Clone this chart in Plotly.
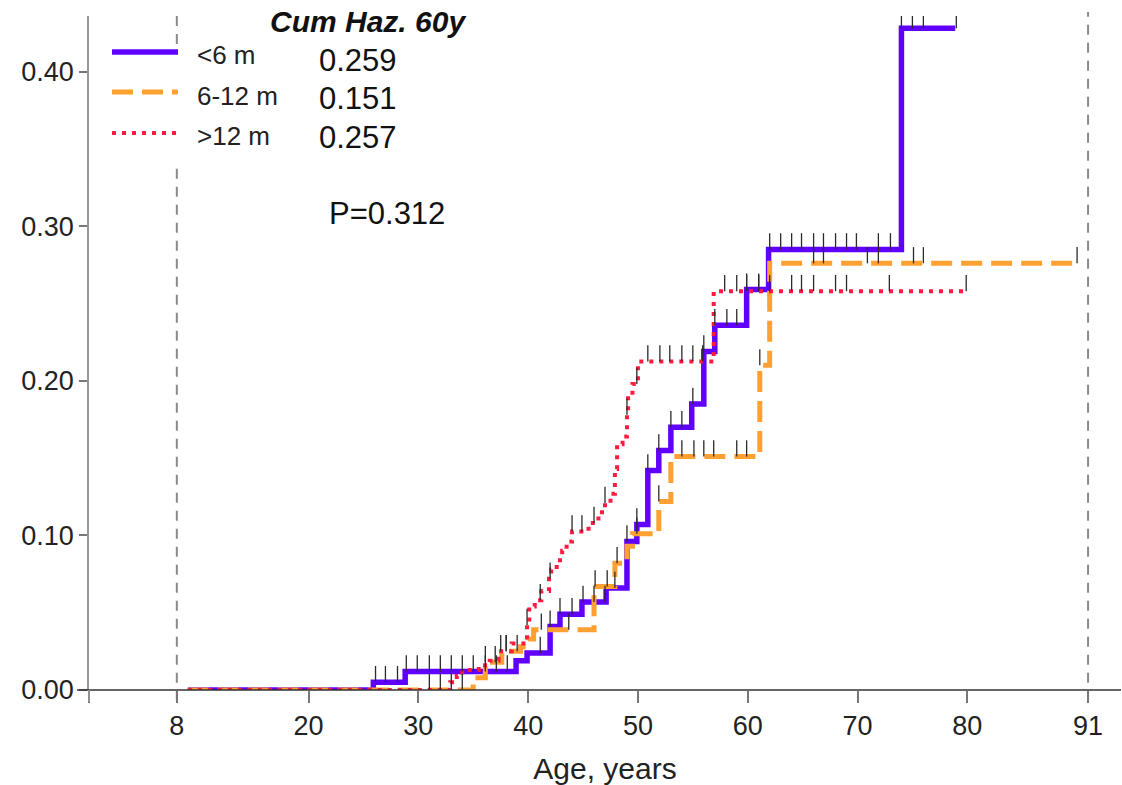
import plotly.graph_objects as go

# ---------------- data ----------------
series_names = ["<6 m", "6-12 m", ">12 m"]
cumhaz_60y = ["0.259", "0.151", "0.257"]
p_value_text = "P=0.312"

# step times (age, years) and cumulative hazard after each step
blue_times = [9.0, 25.9, 28.8, 38.9, 39.9, 42.0, 42.9, 44.9, 47.1, 49.0, 49.9, 50.9, 51.9, 53.0,
              54.9, 56.0, 57.0, 59.9, 61.9, 74.0]
blue_vals = [0.0, 0.005, 0.012, 0.019, 0.024, 0.041, 0.049, 0.057, 0.066, 0.096, 0.107, 0.142, 0.155,
             0.170, 0.185, 0.219, 0.236, 0.259, 0.285, 0.428]
blue_end = 78.9
blue_censor = [26.1, 27.0, 28.1, 28.9, 29.9, 31.0, 32.0, 33.0, 34.0, 35.0, 36.1, 37.1, 38.1, 41.1,
               42.0, 42.9, 44.0, 45.0, 46.0, 47.0, 47.9, 49.0, 49.9, 50.9, 51.9, 53.0, 54.0, 55.0,
               56.0, 57.0, 58.1, 59.0, 59.9, 61.0, 62.0, 63.0, 64.0, 64.9, 66.0, 66.9, 68.0, 69.0,
               69.9, 71.9, 73.0, 74.0, 75.0, 76.0, 79.0]

orange_times = [9.0, 35.0, 36.1, 37.6, 39.3, 40.0, 40.5, 46.0, 47.9, 49.0, 49.5, 51.9, 53.0, 61.1, 62.0]
orange_vals = [0.0, 0.008, 0.018, 0.025, 0.028, 0.033, 0.039, 0.067, 0.082, 0.093, 0.101, 0.122,
               0.151, 0.210, 0.276]
orange_end = 90.0
orange_censor = [33.0, 34.0, 36.1, 37.0, 38.0, 39.0, 41.2, 43.7, 46.1, 47.2, 48.1, 49.9, 51.9, 54.0,
                 55.1, 56.0, 56.9, 59.0, 59.9, 61.1, 66.0, 66.9, 70.9, 71.9, 75.1, 76.0, 90.0]

red_times = [9.0, 32.9, 33.5, 34.0, 35.5, 36.5, 37.3, 38.5, 39.9, 40.1, 40.6, 41.2, 41.9, 42.1, 42.6,
             43.1, 43.5, 44.0, 45.5, 46.4, 47.0, 47.5, 47.9, 48.1, 48.6, 49.0, 49.1, 49.5, 50.0, 56.9]
red_vals = [0.0, 0.005, 0.009, 0.013, 0.016, 0.019, 0.025, 0.030, 0.042, 0.054, 0.058, 0.064, 0.072,
            0.078, 0.084, 0.090, 0.096, 0.1025, 0.108, 0.115, 0.121, 0.127, 0.143, 0.159, 0.164,
            0.178, 0.191, 0.198, 0.2125, 0.258]
red_end = 79.9
red_censor = [31.0, 32.0, 37.5, 38.0, 39.9, 41.1, 42.0, 44.0, 44.9, 46.0, 47.0, 49.0, 49.9, 50.9,
              52.0, 52.9, 54.0, 55.0, 55.9, 57.9, 59.0, 59.9, 61.0, 62.0, 64.0, 64.9, 66.0, 68.0,
              69.0, 72.9, 79.9]

x_tick_vals = [0, 8, 20, 30, 40, 50, 60, 70, 80, 91]
x_tick_text = ["", "8", "20", "30", "40", "50", "60", "70", "80", "91"]
y_tick_vals = [0.0, 0.1, 0.2, 0.3, 0.4]
y_tick_text = ["0.00", "0.10", "0.20", "0.30", "0.40"]
ref_lines = [8, 91]

# ---------------- style ----------------
FONT = "Arial, Liberation Sans, Helvetica, sans-serif"
colors = ["#6000FF", "#FFA033", "#FF1A40"]
dashes = ["solid", "21px,9px", "4px,6px"]
widths = [5.5, 5, 4]

W, H = 1122, 785
ML, MR, MT, MB = 89, 1, 16, 95
PW, PH = W - ML - MR, H - MT - MB
X_MAX = 94.0
Y_MAX = 0.436


def px(x):
    return (x - ML) / PW


def py(y):
    return (H - MB - y) / PH


def value_at(times, vals, t):
    v = vals[0]
    for tt, vv in zip(times, vals):
        if tt <= t + 1e-9:
            v = vv
    return v


fig = go.Figure()

series = [
    (blue_times, blue_vals, blue_end, blue_censor),
    (orange_times, orange_vals, orange_end, orange_censor),
    (red_times, red_vals, red_end, red_censor),
]

for i, (ts, vs, end, cens) in enumerate(series):
    fig.add_trace(go.Scatter(
        x=ts + [end], y=vs + [vs[-1]], mode="lines", line_shape="hv",
        line=dict(color=colors[i], width=widths[i], dash=dashes[i]),
        name=series_names[i], showlegend=False, hoverinfo="skip"))

tick_h = 0.0105
for i, (ts, vs, end, cens) in enumerate(series):
    xs, ys = [], []
    for t in cens:
        v = value_at(ts, vs, t)
        xs += [t, t, None]
        ys += [v, v + tick_h, None]
    fig.add_trace(go.Scatter(x=xs, y=ys, mode="lines",
                             line=dict(color="#2a2a2a", width=1.3),
                             showlegend=False, hoverinfo="skip"))

shapes = []
# reference dashed vertical lines
legend_gap_top, legend_gap_bot = 44, 168
for xv in ref_lines:
    if xv == 8:
        shapes.append(dict(type="line", xref="x", yref="paper", x0=xv, x1=xv,
                           y0=-0.016, y1=py(legend_gap_bot),
                           line=dict(color="#8a8a8a", width=2, dash="10px,8px"), layer="below"))
        shapes.append(dict(type="line", xref="x", yref="paper", x0=xv, x1=xv,
                           y0=py(legend_gap_top), y1=1.006,
                           line=dict(color="#8a8a8a", width=2, dash="10px,8px"), layer="below"))
    else:
        shapes.append(dict(type="line", xref="x", yref="paper", x0=xv, x1=xv,
                           y0=-0.016, y1=1.006,
                           line=dict(color="#8a8a8a", width=2, dash="10px,8px"), layer="below"))

# axis overhangs
shapes.append(dict(type="line", xref="paper", yref="paper", x0=px(77), x1=px(1121), y0=0, y1=0,
                   line=dict(color="#333333", width=1.5)))
shapes.append(dict(type="line", xref="paper", yref="paper", x0=0, x1=0, y0=py(702), y1=0,
                   line=dict(color="#999999", width=1.5)))

# legend samples
leg_y = [52, 92, 133]
for i in range(3):
    shapes.append(dict(type="line", xref="paper", yref="paper", x0=px(112), x1=px(178),
                       y0=py(leg_y[i]), y1=py(leg_y[i]),
                       line=dict(color=colors[i], width=widths[i], dash=dashes[i])))

annotations = []
annotations.append(dict(text="<b><i>Cum Haz. 60y</i></b>", xref="paper", yref="paper",
                        x=px(368), y=py(22), xanchor="center", yanchor="middle", showarrow=False,
                        font=dict(family=FONT, size=30, color="#111111")))
lab_y = [55, 96, 136]
val_y = [60, 99, 137]
for i in range(3):
    annotations.append(dict(text=series_names[i].replace("<", "&lt;").replace(">", "&gt;"),
                            xref="paper", yref="paper",
                            x=px(195), y=py(lab_y[i]), xanchor="left", yanchor="middle",
                            showarrow=False, font=dict(family=FONT, size=26, color="#222222")))
    annotations.append(dict(text=cumhaz_60y[i], xref="paper", yref="paper",
                            x=px(317), y=py(val_y[i]), xanchor="left", yanchor="middle",
                            showarrow=False, font=dict(family=FONT, size=31, color="#111111")))
annotations.append(dict(text=p_value_text, xref="paper", yref="paper",
                        x=px(387), y=py(213), xanchor="center", yanchor="middle", showarrow=False,
                        font=dict(family=FONT, size=31, color="#111111")))

fig.update_layout(
    width=W, height=H,
    margin=dict(l=ML, r=MR, t=MT, b=MB, pad=0),
    paper_bgcolor="white", plot_bgcolor="white",
    font=dict(family=FONT, color="#222222"),
    shapes=shapes, annotations=annotations,
    xaxis=dict(range=[0, X_MAX], tickmode="array", tickvals=x_tick_vals, ticktext=x_tick_text,
               ticks="outside", ticklen=12, tickcolor="#777777", tickwidth=1.5,
               showgrid=False, zeroline=False, showline=False,
               tickfont=dict(family=FONT, size=27, color="#222222"),
               title=dict(text="Age, years", font=dict(family=FONT, size=30, color="#222222"),
                          standoff=18)),
    yaxis=dict(range=[0, Y_MAX], tickmode="array", tickvals=y_tick_vals, ticktext=y_tick_text,
               ticks="outside", ticklen=8, tickcolor="#777777", tickwidth=1.5,
               showgrid=False, zeroline=False, showline=True, linecolor="#999999", linewidth=1.5,
               tickfont=dict(family=FONT, size=27, color="#222222")),
)

fig.write_html("out.html")
